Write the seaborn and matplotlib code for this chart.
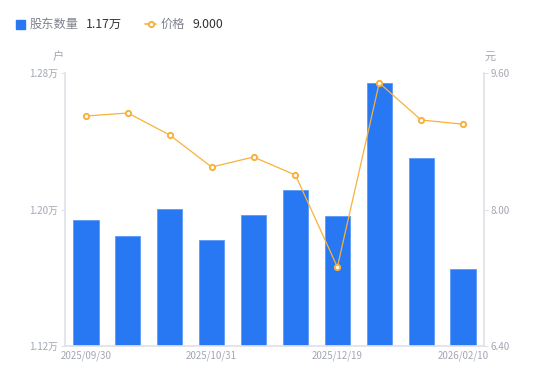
import numpy as np
import pandas as pd
import matplotlib
matplotlib.use("Agg")
import matplotlib.pyplot as plt
import seaborn as sns
from matplotlib.lines import Line2D
from matplotlib.patches import Rectangle

dates = ["2025/09/30", "2025/10/10", "2025/10/20", "2025/10/31", "2025/11/10",
         "2025/11/28", "2025/12/19", "2025/12/31", "2026/01/20", "2026/02/10"]
holders = [1.194, 1.1845, 1.2003, 1.1821, 1.1968, 1.2114, 1.1962, 1.2741, 1.2302, 1.1651]
prices = [9.096, 9.131, 8.873, 8.498, 8.615, 8.404, 7.326, 9.483, 9.049, 9.000]
left_ticks = [1.12, 1.20, 1.28]
right_ticks = [6.40, 8.00, 9.60]
shown_labels = ["2025/09/30", "2025/10/31", "2025/12/19", "2026/02/10"]

BLUE = "#2878F4"
ORANGE = "#F8B23A"
GRAY = "#A3A6B4"
AXIS = "#E0E2E8"

sns.set_theme(style="white")
plt.rcParams["font.family"] = ["Noto Sans CJK SC", "DejaVu Sans"]

df = pd.DataFrame({"date": dates, "holders": holders, "price": prices})

fig = plt.figure(figsize=(5.5, 3.81), dpi=100)
ax = fig.add_axes([65 / 550, 35 / 381, 419 / 550, 273 / 381])

sns.barplot(data=df, x="date", y="holders", color=BLUE, width=0.6,
            saturation=1, edgecolor="#5C9AF7", linewidth=0.6, ax=ax)
ax.set_ylim(left_ticks[0], left_ticks[-1])
ax.set_xlim(-0.5, len(dates) - 0.5)
ax.set_yticks(left_ticks)
ax.set_yticklabels([f"{v:.2f}万" for v in left_ticks])
ax.set_xticks([dates.index(d) for d in shown_labels])
ax.set_xticklabels(shown_labels)
ax.set_xlabel("")
ax.set_ylabel("")

ax2 = ax.twinx()
sns.lineplot(x=np.arange(len(prices)), y=prices, color=ORANGE, linewidth=0.9,
             marker="o", markersize=3.8, markerfacecolor="white",
             markeredgecolor=ORANGE, markeredgewidth=1.4, ax=ax2)
ax2.set_ylim(right_ticks[0], right_ticks[-1])
ax2.set_yticks(right_ticks)
ax2.set_yticklabels([f"{v:.2f}" for v in right_ticks])
ax2.set_xlim(-0.5, len(dates) - 0.5)

for a in (ax, ax2):
    for s in a.spines.values():
        s.set_visible(False)
    a.tick_params(colors=GRAY, labelsize=7, length=3, width=0.8, color=AXIS, pad=2)
    a.grid(False)
ax.spines["left"].set_visible(True)
ax.spines["left"].set_color(AXIS)
ax.spines["bottom"].set_visible(True)
ax.spines["bottom"].set_color(AXIS)
ax2.spines["right"].set_visible(True)
ax2.spines["right"].set_color(AXIS)
ax.tick_params(axis="x", length=0, pad=3)
ax.tick_params(axis="y", left=True)
ax2.tick_params(axis="y", right=True)

fig.text(58 / 550, 1 - 57 / 381, "户", color=GRAY, fontsize=8, ha="center", va="center")
fig.text(490 / 550, 1 - 57 / 381, "元", color=GRAY, fontsize=8, ha="center", va="center")

# legend
fig.patches.append(Rectangle((16 / 550, 1 - 29 / 381), 9 / 550, 9 / 381,
                             transform=fig.transFigure, color=BLUE, figure=fig))
fig.text(30 / 550, 1 - 24 / 381, "股东数量", color="#80838F", fontsize=8.8, va="center")
fig.text(86 / 550, 1 - 24 / 381, "1.17万", color="#333333", fontsize=8.8, va="center")
fig.lines.append(Line2D([145 / 550, 156 / 550], [1 - 24 / 381, 1 - 24 / 381],
                        transform=fig.transFigure, color=ORANGE, linewidth=1.2,
                        figure=fig))
fig.lines.append(Line2D([150.5 / 550], [1 - 24 / 381], transform=fig.transFigure,
                        marker="o", markersize=3.8, markerfacecolor="white",
                        markeredgecolor=ORANGE, markeredgewidth=1.4, figure=fig))
fig.text(161 / 550, 1 - 24 / 381, "价格", color="#80838F", fontsize=8.8, va="center")
fig.text(192 / 550, 1 - 24 / 381, "9.000", color="#333333", fontsize=8.8, va="center")

fig.savefig("out.png", dpi=100)
